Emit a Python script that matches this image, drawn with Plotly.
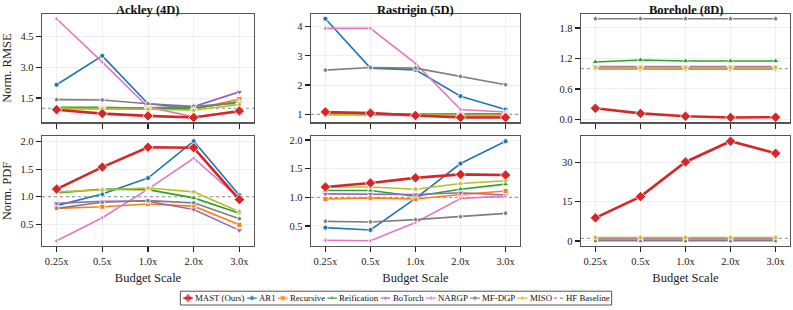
import plotly.graph_objects as go
from plotly.subplots import make_subplots

budgets = ["0.25x", "0.5x", "1.0x", "2.0x", "3.0x"]
methods = ["MAST (Ours)", "AR1", "Recursive", "Reification", "BoTorch", "NARGP", "MF-DGP", "MISO"]
titles = ["Ackley (4D)", "Rastrigin (5D)", "Borehole (8D)"]
row_labels = ["Norm. RMSE", "Norm. PDF"]
hf_baseline = 1.0

# Ackley (4D)
ackley_rmse_mast = [0.93, 0.74, 0.63, 0.55, 0.87]
ackley_rmse_ar1 = [2.15, 3.56, 1.22, 1.00, 1.32]
ackley_rmse_recursive = [0.98, 0.98, 0.98, 0.95, 1.45]
ackley_rmse_reification = [1.05, 1.05, 1.00, 1.00, 1.32]
ackley_rmse_botorch = [1.00, 1.00, 1.02, 1.08, 1.80]
ackley_rmse_nargp = [5.37, 3.25, 1.06, 0.58, 0.82]
ackley_rmse_mfdgp = [1.42, 1.40, 1.22, 1.10, 1.25]
ackley_rmse_miso = [1.00, 0.98, 0.95, 0.90, 1.18]

ackley_pdf_mast = [1.14, 1.54, 1.90, 1.89, 0.95]
ackley_pdf_ar1 = [0.84, 1.05, 1.34, 2.01, 1.03]
ackley_pdf_recursive = [0.79, 0.82, 0.87, 0.83, 0.49]
ackley_pdf_reification = [1.07, 1.14, 1.13, 0.98, 0.70]
ackley_pdf_botorch = [0.88, 0.92, 0.92, 0.77, 0.39]
ackley_pdf_nargp = [0.20, 0.62, 1.14, 1.70, 0.97]
ackley_pdf_mfdgp = [0.79, 0.90, 0.93, 0.89, 0.60]
ackley_pdf_miso = [1.09, 1.12, 1.16, 1.09, 0.73]

# Rastrigin (5D)
rastrigin_rmse_mast = [1.08, 1.04, 0.96, 0.89, 0.89]
rastrigin_rmse_ar1 = [4.27, 2.58, 2.52, 1.62, 1.16]
rastrigin_rmse_recursive = [1.00, 1.00, 0.98, 0.95, 0.95]
rastrigin_rmse_reification = [1.03, 1.03, 1.00, 1.00, 1.00]
rastrigin_rmse_botorch = [1.05, 1.03, 1.00, 1.02, 1.02]
rastrigin_rmse_nargp = [3.94, 3.94, 2.74, 1.16, 1.08]
rastrigin_rmse_mfdgp = [2.51, 2.60, 2.58, 2.29, 2.01]
rastrigin_rmse_miso = [0.98, 0.97, 0.98, 0.97, 0.97]

rastrigin_pdf_mast = [1.18, 1.25, 1.34, 1.40, 1.39]
rastrigin_pdf_ar1 = [0.47, 0.43, 0.98, 1.59, 1.98]
rastrigin_pdf_recursive = [0.97, 0.99, 0.97, 1.05, 1.11]
rastrigin_pdf_reification = [1.12, 1.12, 1.02, 1.14, 1.23]
rastrigin_pdf_botorch = [1.06, 1.06, 1.05, 1.08, 1.04]
rastrigin_pdf_nargp = [0.25, 0.24, 0.56, 0.98, 1.02]
rastrigin_pdf_mfdgp = [0.58, 0.57, 0.61, 0.66, 0.72]
rastrigin_pdf_miso = [1.18, 1.18, 1.14, 1.24, 1.29]

# Borehole (8D)
borehole_rmse_mast = [0.22, 0.12, 0.065, 0.04, 0.045]
borehole_rmse_ar1 = [1.00, 1.00, 1.00, 1.00, 1.00]
borehole_rmse_recursive = [1.01, 1.00, 1.00, 1.00, 1.00]
borehole_rmse_reification = [1.13, 1.17, 1.15, 1.15, 1.15]
borehole_rmse_botorch = [1.04, 1.04, 1.04, 1.04, 1.04]
borehole_rmse_nargp = [1.02, 1.02, 1.02, 1.02, 1.02]
borehole_rmse_mfdgp = [1.98, 1.98, 1.98, 1.98, 1.98]
borehole_rmse_miso = [1.02, 1.02, 1.02, 1.02, 1.02]

borehole_pdf_mast = [8.8, 16.9, 30.1, 38.0, 33.4]
borehole_pdf_ar1 = [0.9, 0.9, 0.9, 0.9, 0.9]
borehole_pdf_recursive = [1.0, 1.0, 1.0, 1.0, 1.0]
borehole_pdf_reification = [1.2, 1.2, 1.2, 1.2, 1.2]
borehole_pdf_botorch = [0.8, 0.8, 0.8, 0.8, 0.8]
borehole_pdf_nargp = [0.6, 0.6, 0.6, 0.6, 0.6]
borehole_pdf_mfdgp = [0.05, 0.05, 0.05, 0.05, 0.05]
borehole_pdf_miso = [1.3, 1.3, 1.3, 1.3, 1.3]

panels = {
    (1, 1): [ackley_rmse_mast, ackley_rmse_ar1, ackley_rmse_recursive, ackley_rmse_reification,
             ackley_rmse_botorch, ackley_rmse_nargp, ackley_rmse_mfdgp, ackley_rmse_miso],
    (2, 1): [ackley_pdf_mast, ackley_pdf_ar1, ackley_pdf_recursive, ackley_pdf_reification,
             ackley_pdf_botorch, ackley_pdf_nargp, ackley_pdf_mfdgp, ackley_pdf_miso],
    (1, 2): [rastrigin_rmse_mast, rastrigin_rmse_ar1, rastrigin_rmse_recursive, rastrigin_rmse_reification,
             rastrigin_rmse_botorch, rastrigin_rmse_nargp, rastrigin_rmse_mfdgp, rastrigin_rmse_miso],
    (2, 2): [rastrigin_pdf_mast, rastrigin_pdf_ar1, rastrigin_pdf_recursive, rastrigin_pdf_reification,
             rastrigin_pdf_botorch, rastrigin_pdf_nargp, rastrigin_pdf_mfdgp, rastrigin_pdf_miso],
    (1, 3): [borehole_rmse_mast, borehole_rmse_ar1, borehole_rmse_recursive, borehole_rmse_reification,
             borehole_rmse_botorch, borehole_rmse_nargp, borehole_rmse_mfdgp, borehole_rmse_miso],
    (2, 3): [borehole_pdf_mast, borehole_pdf_ar1, borehole_pdf_recursive, borehole_pdf_reification,
             borehole_pdf_botorch, borehole_pdf_nargp, borehole_pdf_mfdgp, borehole_pdf_miso],
}

ytick_vals = {
    (1, 1): [1.5, 3.0, 4.5], (2, 1): [0.5, 1.0, 1.5, 2.0],
    (1, 2): [1, 2, 3, 4], (2, 2): [0.5, 1.0, 1.5, 2.0],
    (1, 3): [0.0, 0.6, 1.2, 1.8], (2, 3): [0, 15, 30],
}
ytick_fmt = {(1, 1): ".1f", (2, 1): ".1f", (1, 2): "d", (2, 2): ".1f", (1, 3): ".1f", (2, 3): "d"}

colors = ["#d62728", "#1f77b4", "#ff7f0e", "#2ca02c", "#9467bd", "#e377c2", "#7f7f7f", "#bcbd22"]
symbols = ["diamond", "circle", "square", "triangle-up", "triangle-down", "triangle-left", "pentagon", "star"]
widths = [2.6, 1.6, 1.6, 1.6, 1.6, 1.6, 1.6, 1.6]
msizes = [8, 5, 5, 6, 6, 5, 5, 6]
baseline_color = "#8a8a8a"

FONT = "Liberation Serif"
fig = make_subplots(rows=2, cols=3)

W, H = 793, 310
xcols = [(42, 254), (311, 520), (581, 790)]
yrows = [(13, 123), (137, 248)]
xr = [-0.32, 4.32]
xs = list(range(len(budgets)))

order = [1, 2, 3, 4, 5, 6, 7, 0]  # MAST drawn last (on top)
for (r, c), series in panels.items():
    fig.add_trace(go.Scatter(
        x=xr, y=[hf_baseline, hf_baseline], mode="lines",
        line=dict(color=baseline_color, width=1.0, dash="dot"),
        name="HF Baseline", showlegend=False, hoverinfo="skip"), row=r, col=c)
    for i in order:
        fig.add_trace(go.Scatter(
            x=xs, y=series[i], mode="lines+markers", name=methods[i],
            line=dict(color=colors[i], width=widths[i]),
            marker=dict(symbol=symbols[i], size=msizes[i], color=colors[i],
                        line=dict(color="white", width=0.8)),
            showlegend=False), row=r, col=c)

    vals = [v for s in series for v in s]
    lo, hi = min(vals), max(vals)
    span = hi - lo
    yrange = [lo - 0.05 * span, hi + 0.05 * span]
    x0, x1 = xcols[c - 1]
    y0, y1 = yrows[r - 1]
    fig.update_xaxes(domain=[x0 / W, x1 / W], range=xr, tickvals=xs,
                     ticktext=budgets if r == 2 else None,
                     showticklabels=(r == 2),
                     title=dict(text="Budget Scale" if r == 2 else None, font=dict(size=12.5), standoff=7),
                     row=r, col=c)
    fig.update_yaxes(domain=[1 - y1 / H, 1 - y0 / H], range=yrange,
                     tickvals=ytick_vals[(r, c)], tickformat=ytick_fmt[(r, c)],
                     title=dict(text=row_labels[r - 1] if c == 1 else None, font=dict(size=12.5), standoff=6),
                     row=r, col=c)

fig.update_xaxes(showline=True, linecolor="#555555", linewidth=1.3, mirror=True,
                 ticks="outside", ticklen=5, tickwidth=1.2, tickcolor="#222222",
                 showgrid=True, gridcolor="#ebebeb", gridwidth=0.8, zeroline=False,
                 tickfont=dict(size=10.5, color="#222222"))
fig.update_yaxes(showline=True, linecolor="#555555", linewidth=1.3, mirror=True,
                 ticks="outside", ticklen=5, tickwidth=1.2, tickcolor="#222222",
                 showgrid=True, gridcolor="#ebebeb", gridwidth=0.8, zeroline=False,
                 tickfont=dict(size=10.5, color="#222222"))

for j, t in enumerate(titles):
    x0, x1 = xcols[j]
    fig.add_annotation(text="<b>" + t + "</b>", x=(x0 + x1) / 2 / W, y=1.0,
                       xref="paper", yref="paper", xanchor="center", yanchor="top",
                       showarrow=False, font=dict(size=12.5, family=FONT, color="#111111"))

# ---- compact legend (drawn on an invisible overlay axis measured in pixels) ----
leg_labels = methods + ["HF Baseline"]
leg_colors = colors + [baseline_color]
leg_symbols = symbols + [None]
leg_font = 8.8
leg_text_em = [5.64, 1.89, 4.0, 4.44, 3.56, 3.39, 3.78, 2.5, 4.97]  # approx. Times text widths (em)
leg_sym_w, leg_sym_gap, leg_item_gap, leg_pad = 9.5, 1.5, 3.2, 3.0
leg_box_y = (294, 308)
leg_center_x = 396
leg_yc = (leg_box_y[0] + leg_box_y[1]) / 2
strip_top = 288

item_w = [leg_sym_w + leg_sym_gap + e * leg_font for e in leg_text_em]
total_w = sum(item_w) + leg_item_gap * (len(item_w) - 1) + 2 * leg_pad
box_x0 = leg_center_x - total_w / 2
box_x1 = leg_center_x + total_w / 2

fig.update_layout(
    xaxis7=dict(domain=[0, 1], range=[0, W], visible=False, fixedrange=True),
    yaxis7=dict(domain=[0, (H - strip_top) / H], range=[H, strip_top], visible=False, fixedrange=True),
)
fig.add_shape(type="rect", xref="paper", yref="paper",
              x0=box_x0 / W, x1=box_x1 / W, y0=1 - leg_box_y[1] / H, y1=1 - leg_box_y[0] / H,
              line=dict(color="#555555", width=1), layer="above")
cur = box_x0 + leg_pad
for k, lab in enumerate(leg_labels):
    sx0 = cur
    sx1 = sx0 + leg_sym_w
    is_base = leg_symbols[k] is None
    fig.add_trace(go.Scatter(
        x=[sx0, (sx0 + sx1) / 2, sx1], y=[leg_yc] * 3,
        mode="lines" if is_base else "lines+markers",
        line=dict(color=leg_colors[k], width=1.1 if is_base else (2.2 if k == 0 else 1.4),
                  dash="dot" if is_base else "solid"),
        marker=None if is_base else dict(symbol=leg_symbols[k], size=[0, 7 if k == 0 else 5, 0],
                                         color=leg_colors[k], line=dict(color="white", width=0.6)),
        xaxis="x7", yaxis="y7", showlegend=False, hoverinfo="skip", cliponaxis=False))
    fig.add_annotation(text=lab, x=sx1 + leg_sym_gap, y=leg_yc, xref="x7", yref="y7",
                       xanchor="left", yanchor="middle", showarrow=False, borderpad=0,
                       font=dict(size=leg_font, family=FONT, color="#111111"))
    cur += item_w[k] + leg_item_gap

fig.update_layout(
    width=W, height=H, margin=dict(l=0, r=0, t=0, b=0),
    plot_bgcolor="rgba(0,0,0,0)", paper_bgcolor="white",
    font=dict(family=FONT, size=11, color="#222222"),
    showlegend=False, hovermode=False,
)

fig.write_html("out.html", config={"displayModeBar": False, "staticPlot": True},
               post_script="document.body.style.margin='0';document.body.style.padding='0';"
                           "document.documentElement.style.overflow='hidden';")
